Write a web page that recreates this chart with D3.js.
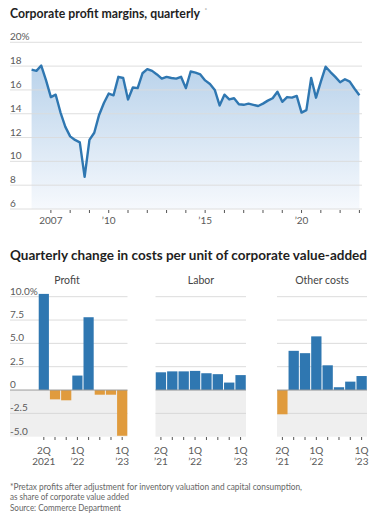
<!DOCTYPE html>
<html><head><meta charset="utf-8">
<script src="https://cdn.jsdelivr.net/npm/d3@7"></script>
<style>
html,body{margin:0;padding:0;background:#fff;}
svg{display:block;font-family:Lato,"Open Sans",sans-serif;}
</style></head>
<body>
<svg id="c" width="376" height="516"></svg>
<script>
// ---------- DATA ----------
const marginStartYear = 2006;          // first quarter: 2006 Q1
const marginValues = [
  17.7, 17.6, 18.05, 16.8,
  15.4, 15.6, 14.1, 12.9,
  12.1, 11.8, 11.6, 8.7,
  11.8, 12.4, 13.9, 14.9,
  15.7, 15.55, 17.1, 17.0,
  15.2, 16.2, 16.15, 17.4,
  17.75, 17.6, 17.3, 16.95,
  17.1, 17.0, 16.95, 17.1,
  16.15, 17.55, 17.45, 17.3,
  16.8, 16.5, 16.0, 14.7,
  15.6, 15.2, 15.3, 14.8,
  14.75, 14.85, 14.75, 14.65,
  14.85, 15.1, 15.3, 15.85,
  15.0, 15.4, 15.35, 15.5,
  14.1, 14.3, 17.0, 15.35,
  16.7, 17.95, 17.5, 17.1,
  16.65, 16.9, 16.7, 16.1,
  15.55
];
const marginYTicks = [6, 8, 10, 12, 14, 16, 18, 20];
const marginXTicks = [2007,2008,2009,2010,2011,2012,2013,2014,2015,2016,2017,2018,2019,2020,2021,2022,2023];
const marginXLabels = {2007:"2007", 2010:"’10", 2015:"’15", 2020:"’20"};

const quarters = ["2Q21","3Q21","4Q21","1Q22","2Q22","3Q22","4Q22","1Q23"];
const profitValues = [10.3, -1.0, -1.1, 1.55, 7.8, -0.5, -0.5, -4.9];
const laborValues  = [1.9, 2.0, 2.0, 2.05, 1.8, 1.7, 0.8, 1.6];
const otherValues  = [-2.6, 4.2, 3.95, 5.75, 2.65, 0.3, 0.9, 1.5];
const panelNames = ["Profit", "Labor", "Other costs"];
const barYTicks = [10, 7.5, 5, 2.5, 0, -2.5, -5];
const barYLabels = ["10.0%", "7.5", "5.0", "2.5", "0", "-2.5", "-5.0"];
const barXLabelsProfit = {"2Q21":["2Q","2021"], "1Q22":["1Q","’22"], "1Q23":["1Q","’23"]};
const barXLabelsOther  = {"2Q21":["2Q","’21"], "1Q22":["1Q","’22"], "1Q23":["1Q","’23"]};

// ---------- STYLE ----------
const BLUE = "#2f77b1", ORANGE = "#e09b3d", GRID = "#dcdcdc", TXT = "#5a5a5a";
const svg = d3.select("#c");

function fit(sel, w){
  const n = sel.node().getComputedTextLength();
  if (Math.abs(n - w) > 1) sel.attr("textLength", w).attr("lengthAdjust", "spacingAndGlyphs");
}

// ---------- TOP CHART ----------
const t1 = svg.append("text").attr("x", 10).attr("y", 17.6)
  .attr("font-size", 12.6).attr("font-weight", 700).attr("fill", "#1f1f1f")
  .text("Corporate profit margins, quarterly");
fit(t1, 190);
svg.append("text").attr("x", 204.5).attr("y", 12).attr("font-size", 6.5).attr("fill", "#888").text("*");

const x1 = d3.scaleLinear().domain([2006, 2023]).range([31.6, 359.4]);
const y1 = d3.scaleLinear().domain([6, 20]).range([209, 42.3]);
const pts = marginValues.map((v, i) => ({t: marginStartYear + i / 4, v}));

const defs = svg.append("defs");
const grad = defs.append("linearGradient").attr("id", "g1")
  .attr("gradientUnits", "userSpaceOnUse").attr("x1", 0).attr("x2", 0)
  .attr("y1", y1(18.5)).attr("y2", y1(6));
grad.append("stop").attr("offset", 0).attr("stop-color", "#b7d1ea");
grad.append("stop").attr("offset", 1).attr("stop-color", "#f6f9fd");

svg.append("path").datum(pts)
  .attr("d", d3.area().x(d => x1(d.t)).y0(y1(6)).y1(d => y1(d.v)))
  .attr("fill", "url(#g1)");

svg.append("g").selectAll("line").data(marginYTicks).join("line")
  .attr("x1", 10).attr("x2", 362).attr("y1", d => y1(d)).attr("y2", d => y1(d))
  .attr("stroke", GRID).attr("stroke-width", 1).attr("opacity", 0.9);

svg.append("g").selectAll("text").data(marginYTicks).join("text")
  .attr("x", 10).attr("y", d => y1(d) - 2)
  .attr("font-size", 10).attr("fill", TXT)
  .text(d => d === 20 ? "20%" : d);

svg.append("path").datum(pts)
  .attr("d", d3.line().x(d => x1(d.t)).y(d => y1(d.v)))
  .attr("fill", "none").attr("stroke", BLUE).attr("stroke-width", 2.4)
  .attr("stroke-linejoin", "round");

svg.append("g").selectAll("line").data(marginXTicks).join("line")
  .attr("x1", d => x1(d)).attr("x2", d => x1(d)).attr("y1", 210).attr("y2", 213)
  .attr("stroke", "#555").attr("stroke-width", 1);

svg.append("g").selectAll("text").data(marginXTicks.filter(d => marginXLabels[d])).join("text")
  .attr("x", d => x1(d)).attr("y", 223.5).attr("text-anchor", "middle")
  .attr("font-size", 10).attr("fill", TXT).text(d => marginXLabels[d]);

// ---------- BOTTOM CHART ----------
const t2 = svg.append("text").attr("x", 10).attr("y", 260)
  .attr("font-size", 12.6).attr("font-weight", 700).attr("fill", "#1f1f1f")
  .text("Quarterly change in costs per unit of corporate value-added");
fit(t2, 357);

const y2 = d3.scaleLinear().domain([-5, 10]).range([436.7, 296.7]);
const panels = [
  {name: panelNames[0], vals: profitValues, gx0: 10, bx0: 38.5, bx1: 127.5, title: 67, labels: barXLabelsProfit},
  {name: panelNames[1], vals: laborValues,  gx0: 155.5, bx0: 155.5, bx1: 246, title: 201, labels: barXLabelsOther},
  {name: panelNames[2], vals: otherValues,  gx0: 277, bx0: 277, bx1: 367, title: 322, labels: barXLabelsOther}
];

panels.forEach((p, pi) => {
  const g = svg.append("g");
  const xb = d3.scaleBand().domain(quarters).range([p.bx0, p.bx1]).paddingInner(0.09).paddingOuter(0.02);
  g.append("rect").attr("x", p.gx0).attr("y", y2(0)).attr("width", p.bx1 - p.gx0)
    .attr("height", y2(-5) - y2(0)).attr("fill", "#efefef");
  g.selectAll("line.grid").data(barYTicks.filter(d => d !== 0 && d !== -5)).join("line")
    .attr("x1", p.gx0).attr("x2", p.bx1).attr("y1", d => y2(d)).attr("y2", d => y2(d))
    .attr("stroke", d => d < 0 ? "#d8d8d8" : GRID).attr("stroke-width", 1);
  g.selectAll("rect.bar").data(p.vals.map((v, i) => ({q: quarters[i], v}))).join("rect")
    .attr("x", d => xb(d.q)).attr("width", xb.bandwidth())
    .attr("y", d => y2(Math.max(0, d.v))).attr("height", d => Math.abs(y2(d.v) - y2(0)))
    .attr("fill", d => d.v >= 0 ? BLUE : ORANGE);
  g.append("line").attr("x1", p.gx0).attr("x2", p.bx1).attr("y1", y2(0)).attr("y2", y2(0))
    .attr("stroke", "#9a9a9a").attr("stroke-width", 1);
  g.selectAll("line.tk").data(quarters).join("line")
    .attr("x1", d => xb(d) + xb.bandwidth() / 2).attr("x2", d => xb(d) + xb.bandwidth() / 2)
    .attr("y1", 437).attr("y2", 440).attr("stroke", "#555").attr("stroke-width", 1);
  const lab = quarters.filter(q => p.labels[q]);
  [0, 1].forEach(li => {
    g.selectAll("text.xl" + li).data(lab).join("text")
      .attr("x", d => xb(d) + xb.bandwidth() / 2).attr("y", li === 0 ? 453.8 : 464.5)
      .attr("text-anchor", "middle").attr("font-size", 10).attr("fill", TXT)
      .text(d => p.labels[d][li]);
  });
  g.append("text").attr("x", p.title).attr("y", 284).attr("text-anchor", "middle")
    .attr("font-size", 10.5).attr("fill", "#444").text(p.name);
  if (pi === 0) {
    g.selectAll("text.yl").data(barYTicks).join("text")
      .attr("x", 10).attr("y", d => y2(d) - 2).attr("font-size", 10).attr("fill", TXT)
      .text((d, i) => barYLabels[i]);
  }
});

// ---------- FOOTNOTES ----------
const f1 = svg.append("text").attr("x", 10).attr("y", 489.5).attr("font-size", 9.2).attr("fill", "#666")
  .text("*Pretax profits after adjustment for inventory valuation and capital consumption,");
fit(f1, 292);
const f2 = svg.append("text").attr("x", 10).attr("y", 499.8).attr("font-size", 9.2).attr("fill", "#666")
  .text("as share of corporate value added");
fit(f2, 119);
const f3 = svg.append("text").attr("x", 10).attr("y", 511.3).attr("font-size", 9.2).attr("fill", "#666")
  .text("Source: Commerce Department");
fit(f3, 111);
</script>
</body></html>
